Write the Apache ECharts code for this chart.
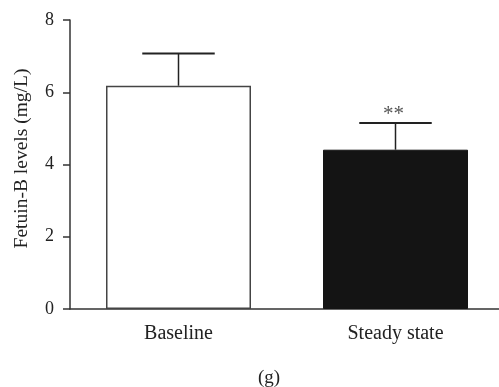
<!DOCTYPE html>
<html>
<head>
<meta charset="utf-8">
<script src="https://cdn.jsdelivr.net/npm/echarts@6/dist/echarts.min.js"></script>
<style>html,body{margin:0;padding:0;background:#fff;}#c{width:499px;height:387px;}</style>
</head>
<body>
<div id="c"></div>
<script>
var categories = ['Baseline', 'Steady state'];
var means = [6.18, 4.41];
var errors = [0.89, 0.74];
var marks = ['', '**'];
var yTicks = [0, 2, 4, 6, 8];

var FONT = '"Liberation Serif", "DejaVu Serif", serif';
var chart = echarts.init(document.getElementById('c'));
chart.setOption({
  animation: false,
  backgroundColor: '#fff',
  grid: { left: 70, right: -5, top: 20, bottom: 78, containLabel: false, outerBoundsMode: 'none' },
  xAxis: {
    type: 'category',
    data: categories,
    axisLine: { lineStyle: { color: '#333', width: 1.5 } },
    axisTick: { alignWithLabel: true, length: 7, lineStyle: { color: '#333', width: 1.5 } },
    axisLabel: { color: '#222', fontFamily: FONT, fontSize: 20, margin: 15 }
  },
  yAxis: {
    type: 'value',
    min: yTicks[0], max: yTicks[yTicks.length - 1], interval: 2,
    name: 'Fetuin-B levels (mg/L)',
    nameLocation: 'middle',
    nameGap: 38,
    nameTextStyle: { color: '#222', fontFamily: FONT, fontSize: 19.5, padding: [0, 0, 0, 12] },
    axisLine: { show: true, lineStyle: { color: '#333', width: 1.5 } },
    axisTick: { show: true, length: 7, lineStyle: { color: '#333', width: 1.5 } },
    axisLabel: { color: '#222', fontFamily: FONT, fontSize: 18, margin: 16 },
    splitLine: { show: false }
  },
  graphic: [{
    type: 'text', left: 258, top: 369,
    style: { text: '(g)', fill: '#222', font: '19px ' + FONT, textAlign: 'center' }
  }],
  series: [{
    type: 'bar',
    barWidth: 145,
    data: means.map(function (v, i) {
      return {
        value: v,
        itemStyle: i === 0
          ? { color: '#fff', borderColor: '#444', borderWidth: 1.5 }
          : { color: '#141414', borderColor: '#141414', borderWidth: 1 }
      };
    }),
    z: 2
  }, {
    type: 'custom',
    z: 3,
    data: means.map(function (v, i) { return [i, v, v + errors[i]]; }),
    renderItem: function (params, api) {
      var i = api.value(0);
      var lo = api.coord([i, api.value(1)]);
      var hi = api.coord([i, api.value(2)]);
      var half = api.size([1, 0])[0] * 0.167;
      var children = [
        { type: 'line', shape: { x1: hi[0], y1: lo[1], x2: hi[0], y2: hi[1] }, style: { stroke: '#222', lineWidth: 1.5 } },
        { type: 'line', shape: { x1: hi[0] - half, y1: hi[1], x2: hi[0] + half, y2: hi[1] }, style: { stroke: '#222', lineWidth: 2 } }
      ];
      if (marks[i]) {
        children.push({ type: 'text', style: { text: marks[i], x: hi[0] - 2, y: hi[1] - 8, textAlign: 'center', textVerticalAlign: 'middle', font: '21px ' + FONT, fill: '#555' } });
      }
      return { type: 'group', children: children };
    }
  }]
});
</script>
</body>
</html>
